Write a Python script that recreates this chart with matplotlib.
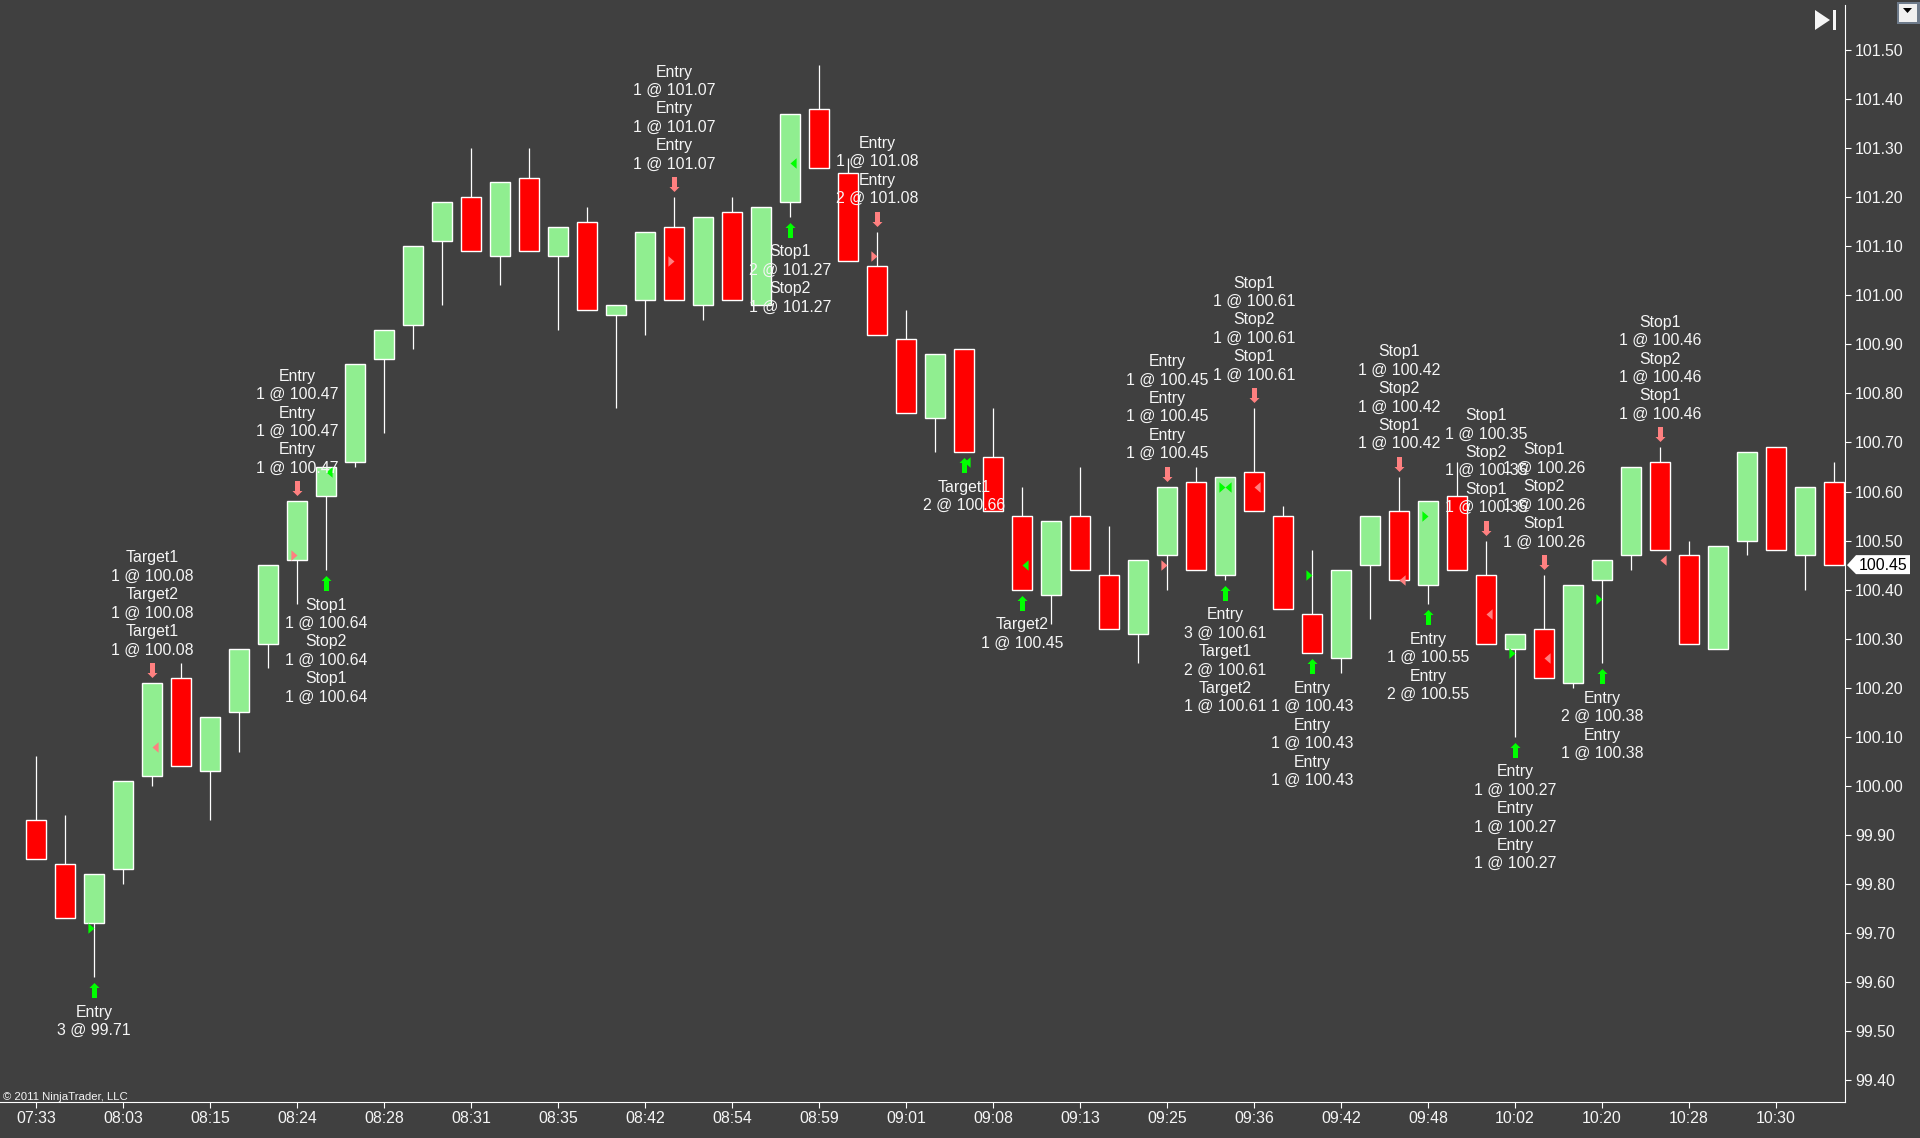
import matplotlib
matplotlib.use("Agg")
import matplotlib.pyplot as plt
from matplotlib.path import Path
from matplotlib.patches import Polygon, Rectangle
from matplotlib.transforms import offset_copy

plt.rcParams['font.family'] = ['Liberation Sans', 'DejaVu Sans']

# Candles, one per bar
opens = [99.93, 99.84, 99.72, 99.83, 100.02, 100.22, 100.03, 100.15, 100.29, 100.46, 100.59,
         100.66, 100.87, 100.94, 101.11, 101.20, 101.08, 101.24, 101.08, 101.15, 100.96,
         100.99, 101.14, 100.98, 101.17, 100.98, 101.19, 101.38, 101.25, 101.06, 100.91,
         100.75, 100.89, 100.67, 100.55, 100.39, 100.55, 100.43, 100.31, 100.47, 100.62,
         100.43, 100.64, 100.55, 100.35, 100.26, 100.45, 100.56, 100.41, 100.59, 100.43,
         100.28, 100.32, 100.21, 100.42, 100.47, 100.66, 100.47, 100.28, 100.50, 100.69,
         100.47, 100.62]
highs = [100.06, 99.94, 99.82, 100.01, 100.21, 100.25, 100.14, 100.28, 100.45, 100.58, 100.65,
         100.86, 100.93, 101.10, 101.19, 101.30, 101.23, 101.30, 101.14, 101.18, 100.98,
         101.13, 101.20, 101.16, 101.20, 101.18, 101.37, 101.47, 101.28, 101.13, 100.97,
         100.88, 100.89, 100.77, 100.61, 100.54, 100.65, 100.53, 100.46, 100.61, 100.65,
         100.63, 100.77, 100.57, 100.48, 100.44, 100.55, 100.63, 100.58, 100.66, 100.50,
         100.31, 100.43, 100.41, 100.46, 100.65, 100.69, 100.50, 100.49, 100.68, 100.69,
         100.61, 100.66]
lows = [99.85, 99.73, 99.61, 99.80, 100.00, 100.04, 99.93, 100.07, 100.24, 100.37, 100.44,
        100.65, 100.72, 100.89, 100.98, 101.09, 101.02, 101.09, 100.93, 100.97, 100.77,
        100.92, 100.99, 100.95, 100.99, 100.98, 101.16, 101.26, 101.07, 100.92, 100.76,
        100.68, 100.68, 100.56, 100.40, 100.33, 100.44, 100.32, 100.25, 100.40, 100.44,
        100.42, 100.56, 100.36, 100.27, 100.23, 100.34, 100.42, 100.37, 100.44, 100.29,
        100.10, 100.22, 100.20, 100.25, 100.44, 100.48, 100.29, 100.28, 100.47, 100.48,
        100.40, 100.45]
closes = [99.85, 99.73, 99.82, 100.01, 100.21, 100.04, 100.14, 100.28, 100.45, 100.58, 100.65,
          100.86, 100.93, 101.10, 101.19, 101.09, 101.23, 101.09, 101.14, 100.97, 100.98,
          101.13, 100.99, 101.16, 100.99, 101.18, 101.37, 101.26, 101.07, 100.92, 100.76,
          100.88, 100.68, 100.56, 100.40, 100.54, 100.44, 100.32, 100.46, 100.61, 100.44,
          100.63, 100.56, 100.36, 100.27, 100.44, 100.55, 100.42, 100.58, 100.44, 100.29,
          100.31, 100.22, 100.41, 100.46, 100.65, 100.48, 100.29, 100.49, 100.68, 100.48,
          100.61, 100.45]

time_labels = ['07:33', '08:03', '08:15', '08:24', '08:28', '08:31', '08:35', '08:42', '08:54',
               '08:59', '09:01', '09:08', '09:13', '09:25', '09:36', '09:42', '09:48', '10:02',
               '10:20', '10:28', '10:30']
price_ticks = [99.4, 99.5, 99.6, 99.7, 99.8, 99.9, 100.0, 100.1, 100.2, 100.3, 100.4, 100.5,
               100.6, 100.7, 100.8, 100.9, 101.0, 101.1, 101.2, 101.3, 101.4, 101.5]

# Trade arrows with their text
trade_bars = [2, 4, 9, 10, 22, 26, 29, 32, 34, 39, 41, 42, 44, 47, 48, 50, 51, 52, 54, 56]
trade_dirs = ['up', 'down', 'down', 'up', 'down', 'up', 'down', 'up', 'up', 'down',
              'up', 'down', 'up', 'down', 'up', 'down', 'up', 'down', 'up', 'down']
trade_text = [
    ['Entry', '3 @ 99.71'],
    ['Target1', '1 @ 100.08', 'Target2', '1 @ 100.08', 'Target1', '1 @ 100.08'],
    ['Entry', '1 @ 100.47', 'Entry', '1 @ 100.47', 'Entry', '1 @ 100.47'],
    ['Stop1', '1 @ 100.64', 'Stop2', '1 @ 100.64', 'Stop1', '1 @ 100.64'],
    ['Entry', '1 @ 101.07', 'Entry', '1 @ 101.07', 'Entry', '1 @ 101.07'],
    ['Stop1', '2 @ 101.27', 'Stop2', '1 @ 101.27'],
    ['Entry', '1 @ 101.08', 'Entry', '2 @ 101.08'],
    ['Target1', '2 @ 100.66'],
    ['Target2', '1 @ 100.45'],
    ['Entry', '1 @ 100.45', 'Entry', '1 @ 100.45', 'Entry', '1 @ 100.45'],
    ['Entry', '3 @ 100.61', 'Target1', '2 @ 100.61', 'Target2', '1 @ 100.61'],
    ['Stop1', '1 @ 100.61', 'Stop2', '1 @ 100.61', 'Stop1', '1 @ 100.61'],
    ['Entry', '1 @ 100.43', 'Entry', '1 @ 100.43', 'Entry', '1 @ 100.43'],
    ['Stop1', '1 @ 100.42', 'Stop2', '1 @ 100.42', 'Stop1', '1 @ 100.42'],
    ['Entry', '1 @ 100.55', 'Entry', '2 @ 100.55'],
    ['Stop1', '1 @ 100.35', 'Stop2', '1 @ 100.35', 'Stop1', '1 @ 100.35'],
    ['Entry', '1 @ 100.27', 'Entry', '1 @ 100.27', 'Entry', '1 @ 100.27'],
    ['Stop1', '1 @ 100.26', 'Stop2', '1 @ 100.26', 'Stop1', '1 @ 100.26'],
    ['Entry', '2 @ 100.38', 'Entry', '1 @ 100.38'],
    ['Stop1', '1 @ 100.46', 'Stop2', '1 @ 100.46', 'Stop1', '1 @ 100.46'],
]

# Execution triangles on the bars
exec_bars = [2, 4, 9, 10, 22, 26, 29, 32, 34, 39, 41, 41, 42, 44, 47, 48, 50, 51, 52, 54, 56]
exec_prices = [99.71, 100.08, 100.47, 100.64, 101.07, 101.27, 101.08, 100.66, 100.45, 100.45,
               100.61, 100.61, 100.61, 100.43, 100.42, 100.55, 100.35, 100.27, 100.26, 100.38,
               100.46]
exec_dirs = ['right', 'left', 'right', 'left', 'right', 'left', 'right', 'left', 'left', 'right',
             'right', 'left', 'left', 'right', 'left', 'right', 'left', 'right', 'left', 'right',
             'left']
exec_sides = ['buy', 'sell', 'sell', 'buy', 'sell', 'buy', 'sell', 'buy', 'buy', 'sell',
              'buy', 'buy', 'sell', 'buy', 'sell', 'buy', 'sell', 'buy', 'sell', 'buy', 'sell']

BG = '#404040'
UP = '#90EE90'
DOWN = '#FF0000'
BUY = '#00FF00'
SELL = '#FF8080'
TXT = '#F5F5F5'
FS = 11.4

W, H = 1920, 1138
AX_L, AX_R, AX_T, AX_B = 0, 1845, 5, 1102


# pixel layout of the chart, the same as the scale on the right
def px_to_price(y):
    return 101.5 - (y - 50) / 490.6


def price_to_px(p):
    return 50 + (101.5 - p) * 490.6


fig = plt.figure(figsize=(W / 100, H / 100), dpi=100, facecolor=BG)
ax = fig.add_axes([AX_L / W, 1 - AX_B / H, (AX_R - AX_L) / W, (AX_B - AX_T) / H], facecolor=BG)
ax.set_xlim(-36 / 29, (AX_R - 36) / 29)
ax.set_ylim(px_to_price(AX_B), px_to_price(AX_T))

bars = list(range(len(opens)))
colors = [UP if c > o else DOWN for o, c in zip(opens, closes)]
ax.vlines(bars, lows, highs, color='white', lw=0.9, zorder=2)
ax.bar(bars, [abs(c - o) for o, c in zip(opens, closes)], bottom=[min(o, c) for o, c in zip(opens, closes)],
       width=20 / 29, color=colors, edgecolor='white', linewidth=1.0, zorder=3)

# markers are rescaled by matplotlib, so the size is twice the largest vertex (in points)
up_arrow = Path([(0, 7.5), (5, 2.5), (2.5, 2.5), (2.5, -7.5), (-2.5, -7.5), (-2.5, 2.5), (-5, 2.5), (0, 7.5)], closed=True)
down_arrow = Path([(0, -7.5), (5, -2.5), (2.5, -2.5), (2.5, 7.5), (-2.5, 7.5), (-2.5, -2.5), (-5, -2.5), (0, -7.5)], closed=True)
tri_right = Path([(-5, 4.3), (0, 0), (-5, -4.3), (-5, 4.3)], closed=True)
tri_left = Path([(5, 4.3), (0, 0), (5, -4.3), (5, 4.3)], closed=True)

for b, p, d, s in zip(exec_bars, exec_prices, exec_dirs, exec_sides):
    ax.plot(b, p, marker=tri_right if d == 'right' else tri_left, ms=8.8, mew=0,
            color=BUY if s == 'buy' else SELL, zorder=4)

for b, d, lines in zip(trade_bars, trade_dirs, trade_text):
    sign = 1 if d == 'down' else -1
    anchor = highs[b] if d == 'down' else lows[b]
    tr = offset_copy(ax.transData, fig=fig, y=sign * 13, units='dots')
    ax.plot(b, anchor, marker=down_arrow if d == 'down' else up_arrow, ms=10.8, mew=0,
            color=SELL if d == 'down' else BUY, transform=tr, zorder=5)
    ordered = lines[::-1] if d == 'down' else lines
    for k, line in enumerate(ordered):
        tr = offset_copy(ax.transData, fig=fig, y=sign * (34 + 18.4 * k) - 1, units='dots')
        ax.text(b, anchor, line, transform=tr, ha='center', va='center', color=TXT, fontsize=FS, zorder=6)

ax.set_xticks(bars[::3][:len(time_labels)])
ax.set_xticklabels(time_labels)
ax.set_yticks(price_ticks)
ax.set_yticklabels([f'{p:.2f}' for p in price_ticks])
ax.yaxis.tick_right()
ax.tick_params(axis='x', colors='white', labelcolor=TXT, labelsize=FS, length=4.3, width=0.8, pad=2)
ax.tick_params(axis='y', colors='white', labelcolor=TXT, labelsize=FS, length=4.3, width=0.8, pad=3)
for name in ['top', 'left']:
    ax.spines[name].set_visible(False)
for name in ['bottom', 'right']:
    ax.spines[name].set_color('white')
    ax.spines[name].set_linewidth(0.8)

# overlay in image pixels for the window furniture
over = fig.add_axes([0, 0, 1, 1], facecolor='none')
over.set_xlim(0, W)
over.set_ylim(H, 0)
over.axis('off')

over.text(3, 1097, '\u00a9 2011 NinjaTrader, LLC', color=TXT, fontsize=8.2, ha='left', va='center')

# scroll to end icon
over.add_patch(Polygon([(1815, 10), (1830, 20), (1815, 30)], closed=True, fc='#F5F5F5', ec='none'))
over.add_patch(Rectangle((1833, 10), 3, 20, fc='#F5F5F5', ec='none'))

# dropdown button
over.add_patch(Rectangle((1897, 2), 23, 22, fc='#6E7B8B', ec='none'))
over.add_patch(Rectangle((1899, 4), 18, 18, fc='#F0F0F0', ec='none'))
over.add_patch(Polygon([(1903, 8), (1912, 8), (1907.5, 13)], closed=True, fc='black', ec='none'))

# last price tag
tag_y = price_to_px(closes[-1])
over.add_patch(Polygon([(1847, tag_y), (1856, tag_y - 10), (1910, tag_y - 10), (1910, tag_y + 9), (1856, tag_y + 9)],
                       closed=True, fc='white', ec='none'))
over.text(1859, tag_y, f'{closes[-1]:.2f}', color='black', fontsize=FS, ha='left', va='center')

fig.savefig('out.png', dpi=100, facecolor=BG)
